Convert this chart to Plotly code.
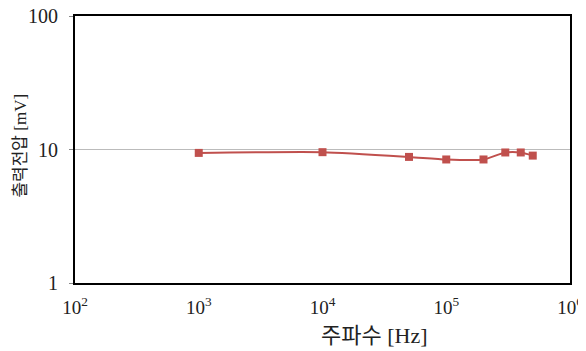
import plotly.graph_objects as go

freq_hz = [1e3, 1e4, 5e4, 1e5, 2e5, 3e5, 4e5, 5e5]
voltage_mv = [9.43, 9.55, 8.8, 8.42, 8.42, 9.5, 9.5, 9.0]

x_tickvals = [1e2, 1e3, 1e4, 1e5, 1e6]
x_ticktext = ["10<sup>2</sup>", "10<sup>3</sup>", "10<sup>4</sup>", "10<sup>5</sup>", "10<sup>6</sup>"]
y_tickvals = [1, 10, 100]
y_ticktext = ["1", "10", "100"]

x_title = "주파수 [Hz]"
y_title = "출력전압 [mV]"

color = "#C0504D"
font_family = "Liberation Serif, Noto Sans CJK KR, serif"

fig = go.Figure()
fig.add_trace(go.Scatter(
    x=freq_hz, y=voltage_mv, mode="lines+markers",
    line=dict(color=color, width=2, shape="spline", smoothing=0.6),
    marker=dict(symbol="square", size=8, color=color),
    showlegend=False,
))

fig.update_layout(
    width=578, height=343,
    margin=dict(l=67, r=16, t=8, b=68, autoexpand=False),
    paper_bgcolor="white", plot_bgcolor="white",
    font=dict(family=font_family, color="#222222", size=18),
    xaxis=dict(
        type="log", range=[2, 6], tickvals=x_tickvals, ticktext=x_ticktext,
        showgrid=False, zeroline=False, automargin=False,
        showline=True, linecolor="black", linewidth=2, mirror=True,
        ticks="", tickfont=dict(size=19, family=font_family),
        ticklabeloverflow="allow", ticklabelstandoff=6,
    ),
    yaxis=dict(
        type="log", range=[0, 2], tickvals=y_tickvals, ticktext=y_ticktext,
        showgrid=True, gridcolor="#BBBBBB", gridwidth=1, zeroline=False, automargin=False,
        showline=True, linecolor="black", linewidth=2, mirror=True,
        ticks="outside", ticklen=4, tickcolor="#888888",
        tickfont=dict(size=20, family=font_family),
        ticklabeloverflow="allow", ticklabelstandoff=7,
    ),
    annotations=[
        dict(text=x_title, xref="paper", yref="paper", x=0.606, y=-0.1985,
             xanchor="center", yanchor="middle", showarrow=False,
             font=dict(size=22, family=font_family)),
        dict(text=y_title, xref="paper", yref="paper", x=-0.111, y=0.515,
             xanchor="center", yanchor="middle", showarrow=False, textangle=-90,
             font=dict(size=17, family=font_family)),
    ],
)

fig.write_html("out.html")
